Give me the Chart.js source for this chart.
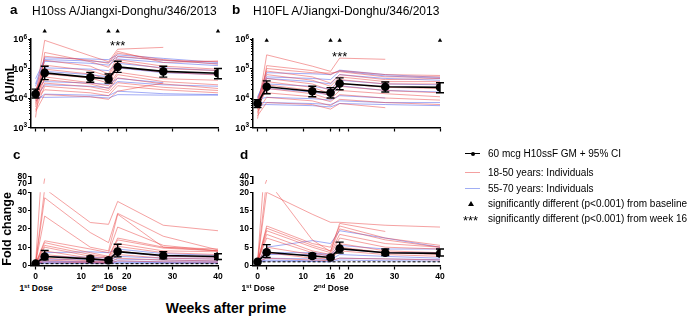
<!DOCTYPE html>
<html>
<head>
<meta charset="utf-8">
<script src="https://cdn.jsdelivr.net/npm/chart.js@4.4.1/dist/chart.umd.min.js"></script>
<style>
  body { margin: 0; background: #fff; }
  #wrap { position: relative; width: 691px; height: 317px; overflow: hidden;
          font-family: 'Liberation Sans', Arial, sans-serif; color: #000; }
  canvas { position: absolute; }
  .t { position: absolute; white-space: nowrap; line-height: 1; transform: translateY(-50%); }
  .c { transform: translate(-50%, -50%); }
  .lab { font-weight: bold; font-size: 13.5px; }
  .ttl { font-size: 12px; }
  .dose { font-weight: bold; font-size: 8.5px; }
  .dose sup { font-size: 6px; vertical-align: 3px; }
  .lg { font-size: 10px; left: 488px; }
  .sym { position: absolute; }
</style>
</head>
<body>
<div id="wrap">
  <canvas id="ca" width="226" height="136" style="left:0;top:0"></canvas>
  <canvas id="cb" width="226" height="136" style="left:222px;top:0"></canvas>
  <canvas id="cc" width="226" height="142" style="left:0;top:140px"></canvas>
  <canvas id="cd" width="226" height="142" style="left:222px;top:140px"></canvas>

  <div class="t lab" style="left:10px;top:10px">a</div>
  <div class="t ttl" style="left:32px;top:11px">H10ss A/Jiangxi-Donghu/346/2013</div>
  <div class="t lab" style="left:232px;top:10px">b</div>
  <div class="t ttl" style="left:253px;top:11px">H10FL A/Jiangxi-Donghu/346/2013</div>
  <div class="t lab" style="left:13px;top:155px">c</div>
  <div class="t lab" style="left:240px;top:155px">d</div>

  <div class="t c dose" style="left:36px;top:288px">1<sup>st</sup> Dose</div>
  <div class="t c dose" style="left:109px;top:288px">2<sup>nd</sup> Dose</div>
  <div class="t c dose" style="left:258px;top:288px">1<sup>st</sup> Dose</div>
  <div class="t c dose" style="left:331px;top:288px">2<sup>nd</sup> Dose</div>
  <div class="t c" style="left:226px;top:308px;font-weight:bold;font-size:14px">Weeks after prime</div>

  <!-- legend -->
  <div class="sym" style="left:465px;top:153px;width:15px;height:1.3px;background:#000"></div>
  <div class="sym" style="left:470.5px;top:151.6px;width:4px;height:4px;border-radius:50%;background:#000"></div>
  <div class="t lg" style="top:154px">60 mcg H10ssF GM + 95% CI</div>
  <div class="sym" style="left:465px;top:172px;width:15px;height:1px;background:rgba(240,120,120,0.7)"></div>
  <div class="t lg" style="top:172.5px">18-50 years: Individuals</div>
  <div class="sym" style="left:465px;top:188px;width:15px;height:1px;background:rgba(120,140,240,0.7)"></div>
  <div class="t lg" style="top:188.5px">55-70 years: Individuals</div>
  <div class="sym" style="left:467.5px;top:200.5px;width:0;height:0;border-left:3px solid transparent;border-right:3px solid transparent;border-bottom:5px solid #000"></div>
  <div class="t lg" style="top:203.5px">significantly different (p&lt;0.001) from baseline</div>
  <div class="t" style="left:463px;top:220px;font-size:13px">***</div>
  <div class="t lg" style="top:218.5px">significantly different (p&lt;0.001) from week 16</div>
</div>

<script>
// sampling weeks
const weeks = [0, 2, 12, 16, 18, 28, 40];
const xTicks = [0, 2, 10, 16, 18, 20, 30, 40];
const xLabels = [0, 10, 16, 20, 30, 40];
const sigWeeks = [2, 16, 18, 40];
const logTicks = [1e3, 1e4, 1e5, 1e6];
const cTopTicks = [70, 80];
const cLowTicks = [0, 10, 20, 30, 40];
const dTopTicks = [30, 40];
const dLowTicks = [0, 5, 10, 15, 20];

// panel a: H10ss, AU/mL
const gmA = [13700, 71000, 50000, 44000, 113000, 80000, 69000];
const loA = [10000, 42000, 34000, 32000, 74000, 51000, 45000];
const hiA = [20000, 119000, 74000, 65000, 176000, 119000, 100000];
const redA = [
  [11000, 900000, 270000, 170000, 450000, 520000, null],
  [2200, 350000, 170000, 110000, 330000, 200000, 140000],
  [8000, 260000, 190000, 150000, 380000, 160000, 180000],
  [15000, 190000, 120000, 65000, 260000, 190000, 170000],
  [10000, 130000, 85000, 55000, 200000, 120000, 95000],
  [6000, 95000, 65000, 42000, 170000, 100000, 85000],
  [20000, 65000, 48000, 32000, 110000, 75000, 60000],
  [5000, 52000, 33000, 26000, 75000, 45000, 40000],
  [13000, 42000, 30000, 21000, 62000, 36000, 28000],
  [7000, 32000, 24000, 18000, 48000, 30000, 21000],
  [4000, 25000, 19000, 15000, 33000, 23000, 18000],
  [9000, 19000, 15000, 12000, 26000, 19000, 15000],
  [3500, 13000, 11000, 9000, 17000, 32000, null]
];
const blueA = [
  [30000, 230000, 210000, 200000, 290000, 220000, 160000],
  [45000, 200000, 180000, 160000, 250000, 190000, 145000],
  [25000, 175000, 150000, 130000, 210000, 160000, 125000],
  [16000, 105000, 95000, 85000, 150000, 105000, 85000],
  [12000, 80000, 62000, 52000, 105000, 72000, 62000],
  [20000, 36000, 32000, 29000, 46000, 33000, null],
  [10000, 28000, 25000, 22000, 36000, 28000, 25000],
  [8000, 13500, 12500, 12000, 17000, 14000, 13000],
  [11000, 10500, 11000, 10000, 13000, 12500, 12500]
];

// panel b: H10FL, AU/mL
const gmB = [6500, 24000, 17000, 15000, 31000, 24000, 23000];
const loB = [4700, 14000, 11000, 10000, 19000, 16000, 15000];
const hiB = [8700, 38000, 25000, 22500, 48000, 35000, 33000];
const redB = [
  [4000, 290000, 120000, 80000, 225000, 205000, null],
  [2000, 125000, 85000, 62000, 85000, 62000, 58000],
  [6000, 100000, 72000, 70000, 78000, 52000, 52000],
  [8000, 82000, 52000, 32000, 62000, 42000, 46000],
  [5000, 62000, 40000, 25000, 52000, 36000, 36000],
  [3000, 46000, 30000, 18000, 42000, 30000, 30000],
  [10000, 36000, 23000, 14000, 31000, 23000, 21000],
  [7000, 28000, 18000, 12000, 25000, 18000, 15000],
  [4500, 21000, 14000, 9000, 18000, 14000, 11000],
  [9000, 15000, 11000, 7500, 13000, 10000, 8500],
  [3500, 10500, 8000, 5500, 9000, 7000, 6000],
  [2500, 7000, 6000, 4200, 6500, 4700, null]
];
const blueB = [
  [9500, 72000, 66000, 62000, 88000, 62000, 50000],
  [11000, 52000, 46000, 42000, 82000, 56000, 46000],
  [8000, 46000, 36000, 30000, 62000, 46000, 40000],
  [6000, 30000, 25000, 20000, 40000, 30000, 28000],
  [5000, 21000, 16000, 12500, 26000, 18000, 16000],
  [9000, 10500, 9500, 8500, 12000, 10000, null],
  [7000, 7000, 6500, 6000, 8000, 7000, 7000],
  [5500, 6000, 5500, 5000, 6500, 6000, 5500]
];

// panel c: H10ss fold change
const gmC = [1, 4.9, 3.6, 2.9, 7.6, 5.5, 4.9];
const loC = [null, 3.1, 2.2, 1.6, 4.7, 3.6, 3.3];
const hiC = [null, 8.2, 5.1, 4.0, 11.6, 7.6, 6.4];
const redC = [
  [1, 77, null, null, null, null, null],
  [1, 42, 23.5, 22.5, 35, 22, 19],
  [1, 37, 18, 12.5, 28.5, 16, 8.5],
  [1, 27, 10, 8, 28, 10, 8],
  [1, 13.5, 9, 7, 21, 11, 8],
  [1, 12.5, 7, 5, 15, 10, 9],
  [1, 11, 6, 4.5, 14, 9.5, 8],
  [1, 10, 5, 4, 12, 8, 7.5],
  [1, 8, 4, 3, 10.5, 7, 6],
  [1, 6, 3.5, 2.5, 8, 5, 4.5],
  [1, 4, 2.5, 2, 6, 4, 3.5],
  [1, 3, 2, 1.5, 4, 3, 2.5],
  [1, 2, 1.5, 1.2, 2.5, 2, 1.8]
];
const blueC = [
  [1, 7, 7.5, 7, 9, 6.5, 5.5],
  [1, 5, 4.5, 4, 7.5, 5, 4.5],
  [1, 3.5, 3, 2.5, 5, 4, 3.5],
  [1, 2.5, 2, 2, 3.5, 3, 2.5],
  [1, 2, 1.8, 1.5, 2.5, 2, 2],
  [1, 1.5, 1.4, 1.3, 1.8, 1.6, 1.5],
  [1, 1.2, 1.1, 1, 1.3, 1.2, 1.2]
];

// panel d: H10FL fold change
const gmD = [1, 3.6, 2.6, 2.2, 4.6, 3.5, 3.3];
const loD = [null, 2.2, 2.0, 1.8, 3.4, 2.7, 2.6];
const hiD = [null, 5.7, 3.3, 2.7, 6.4, 4.5, 4.5];
const redD = [
  [1, 35, null, null, null, null, null],
  [1, 23.5, 7, 3.8, 11.5, 9.3, null],
  [1, 20, 14, 11.8, 11.8, 11, 10.5],
  [1, 10.8, 6, 5, 10.8, 7.5, 5.5],
  [1, 10.2, 5.5, 4, 10, 7, 5],
  [1, 9.5, 5, 3.5, 8.5, 6, 5],
  [1, 8.5, 4, 3, 7.5, 5, 4.5],
  [1, 7.5, 3.5, 2.5, 6, 4, 3.5],
  [1, 5, 3, 2, 5, 3.5, 3],
  [1, 3.5, 2, 1.8, 4, 3, 2.5],
  [1, 2, 1.5, 1.3, 2, 1.8, 1.5]
];
const blueD = [
  [1, 5, 6.8, 6, 9.5, 7.5, 5],
  [1, 3.5, 3.5, 3, 5.5, 4.5, 4.5],
  [1, 3, 3, 2.8, 4.5, 3.5, 3.5],
  [1, 2, 1.8, 1.6, 3, 2.5, 2],
  [1, 1.5, 1.3, 1.2, 2, 1.8, 1.6],
  [1, 1.2, 1.1, 1, 1.5, 1.3, 1.2]
];

const redCol = 'rgba(236, 70, 70, 0.5)';
const blueCol = 'rgba(70, 90, 238, 0.5)';
const tickFont = { size: 8.5, weight: 'bold' };
const fontFam = "'Liberation Sans', Arial, sans-serif";

Chart.defaults.font.family = fontFam;
Chart.defaults.color = '#000';

// error bars, log minor ticks, power-of-ten labels, triangles and *** marks
const extras = {
  id: 'extras',
  afterDatasetsDraw(chart, args, o) {
    if (!o || !o.yId) return;
    const ctx = chart.ctx, xs = chart.scales.x, ys = chart.scales[o.yId];
    ctx.save();
    ctx.strokeStyle = '#000';
    ctx.fillStyle = '#000';
    ctx.lineWidth = 1.4;
    ctx.beginPath();
    weeks.forEach((w, i) => {
      if (o.lo[i] == null) return;
      const x = xs.getPixelForValue(w);
      const y1 = ys.getPixelForValue(o.lo[i]), y2 = ys.getPixelForValue(o.hi[i]);
      ctx.moveTo(x, y1); ctx.lineTo(x, y2);
      ctx.moveTo(x - 4, y1); ctx.lineTo(x + 4, y1);
      ctx.moveTo(x - 4, y2); ctx.lineTo(x + 4, y2);
    });
    ctx.stroke();
    if (o.log) {
      ctx.lineWidth = 1;
      ctx.beginPath();
      for (let d = 1e3; d < 1e6; d *= 10) {
        for (let k = 2; k < 10; k++) {
          const y = Math.round(ys.getPixelForValue(k * d)) + 0.5;
          ctx.moveTo(ys.right - 2, y); ctx.lineTo(ys.right, y);
        }
      }
      ctx.stroke();
      // 10^n labels
      logTicks.forEach(v => {
        const y = ys.getPixelForValue(v);
        const exp = String(Math.round(Math.log10(v)));
        ctx.font = 'bold 6.5px ' + fontFam;
        const ew = ctx.measureText(exp).width;
        const right = ys.right - 4;
        ctx.textAlign = 'right';
        ctx.textBaseline = 'alphabetic';
        ctx.fillText(exp, right, y - 0.5);
        ctx.font = 'bold 9px ' + fontFam;
        ctx.fillText('10', right - ew, y + 3.3);
      });
    }
    if (o.sig) {
      sigWeeks.forEach(w => {
        const x = xs.getPixelForValue(w), y = ys.getPixelForValue(o.sig);
        ctx.beginPath();
        ctx.moveTo(x, y - 2.4);
        ctx.lineTo(x + 2.2, y + 1.4);
        ctx.lineTo(x - 2.2, y + 1.4);
        ctx.closePath();
        ctx.fill();
      });
    }
    if (o.star) {
      ctx.font = '13px ' + fontFam;
      ctx.textAlign = 'center';
      ctx.textBaseline = 'alphabetic';
      ctx.fillText('***', xs.getPixelForValue(o.star[0]), ys.getPixelForValue(o.star[1]) + 7.5);
    }
    ctx.restore();
  }
};
Chart.register(extras);

const axisGrid = { display: true, drawOnChartArea: false, drawTicks: true, tickLength: 4,
                   tickColor: '#000', tickWidth: 1.2, color: '#000' };
const axisBorder = { display: true, color: '#000', width: 1.5 };

function xScale(showLabels, h) {
  return {
    type: 'linear', min: -1, max: 40,
    afterBuildTicks: s => { s.ticks = xTicks.map(v => ({ value: v })); },
    afterFit: s => { s.height = h; s.paddingLeft = 0; s.paddingRight = 0; },
    ticks: { display: showLabels, autoSkip: false, maxRotation: 0, padding: 2, font: tickFont,
             callback: v => xLabels.includes(v) ? String(v) : '' },
    grid: axisGrid, border: axisBorder
  };
}

function indiv(rows, color, yId) {
  return rows.map(r => ({
    data: weeks.map((w, i) => ({ x: w, y: r[i] })),
    borderColor: color, borderWidth: 1, pointRadius: 0, order: 5, yAxisID: yId
  }));
}

function gmSet(vals, yId) {
  return {
    data: weeks.map((w, i) => ({ x: w, y: vals[i] })),
    borderColor: '#000', borderWidth: 1.6, pointRadius: 4.3, pointBackgroundColor: '#000',
    pointBorderWidth: 0, order: 0, yAxisID: yId
  };
}

function logPanel(id, red, blue, gm, lo, hi, sigY, starY, title) {
  new Chart(document.getElementById(id), {
    type: 'line',
    data: {
      datasets: [
        gmSet(gm, 'y'),
        ...indiv(red, redCol, 'y'),
        ...indiv(blue, blueCol, 'y')
      ]
    },
    options: {
      responsive: false, animation: false, devicePixelRatio: 1,
      layout: { padding: { top: 39, right: 8, left: 0, bottom: 0 } },
      plugins: { legend: { display: false }, tooltip: { enabled: false },
                 extras: { yId: 'y', lo, hi, log: true, sig: sigY, star: [18, starY] } },
      scales: {
        x: xScale(false, 8.5),
        y: {
          type: 'logarithmic', min: logTicks[0], max: logTicks[logTicks.length - 1],
          afterBuildTicks: s => { s.ticks = logTicks.map(v => ({ value: v })); },
          afterFit: s => { s.width = 31; },
          ticks: { display: false },
          grid: { ...axisGrid, tickLength: 3 }, border: axisBorder,
          title: { display: !!title, text: title, font: { size: 12, weight: 'bold' },
                   padding: { top: 3, bottom: 0 } }
        }
      }
    }
  });
}

function foldPanel(id, red, blue, gm, lo, hi, topTicks, lowTicks, title) {
  const yAxis = (ticks, weight, stackWeight, extra) => ({
    type: 'linear', position: 'left', stack: 'fold', stackWeight, weight,
    min: ticks[0], max: ticks[ticks.length - 1],
    afterBuildTicks: s => { s.ticks = ticks.map(v => ({ value: v })); },
    afterFit: s => { s.width = 31; },
    ticks: { autoSkip: false, padding: 1, font: tickFont },
    grid: { ...axisGrid, tickLength: 3 }, border: axisBorder,
    ...extra
  });
  new Chart(document.getElementById(id), {
    type: 'line',
    data: {
      datasets: [
        gmSet(gm, 'yB'),
        { data: [{ x: 0, y: 1 }, { x: 40, y: 1 }], borderColor: '#000', borderWidth: 1,
          borderDash: [3, 2], pointRadius: 0, order: 2, yAxisID: 'yB' },
        ...indiv(red, redCol, 'yB'),
        ...indiv(blue, blueCol, 'yB'),
        ...indiv(red, redCol, 'yT'),
        ...indiv(blue, blueCol, 'yT')
      ]
    },
    options: {
      responsive: false, animation: false, devicePixelRatio: 1,
      layout: { padding: { top: 36.3, right: 8, left: 0, bottom: 0 } },
      plugins: { legend: { display: false }, tooltip: { enabled: false },
                 extras: { yId: 'yB', lo, hi } },
      scales: {
        x: xScale(true, 16.5),
        yT: yAxis(topTicks, 3, 7.4, {}),
        yS: { type: 'linear', position: 'left', stack: 'fold', stackWeight: 8.6, weight: 2, display: false },
        yB: yAxis(lowTicks, 1, 73.2, {
          title: { display: !!title, text: title, font: { size: 12.5, weight: 'bold' },
                   padding: { top: 0, bottom: 0 } }
        })
      }
    }
  });
}

logPanel('ca', redA, blueA, gmA, loA, hiA, 1.85e6, 7.4e5, 'AU/mL');
logPanel('cb', redB, blueB, gmB, loB, hiB, 9e5, 3.3e5, '');
foldPanel('cc', redC, blueC, gmC, loC, hiC, cTopTicks, cLowTicks, 'Fold change');
foldPanel('cd', redD, blueD, gmD, loD, hiD, dTopTicks, dLowTicks, '');
</script>
</body>
</html>
